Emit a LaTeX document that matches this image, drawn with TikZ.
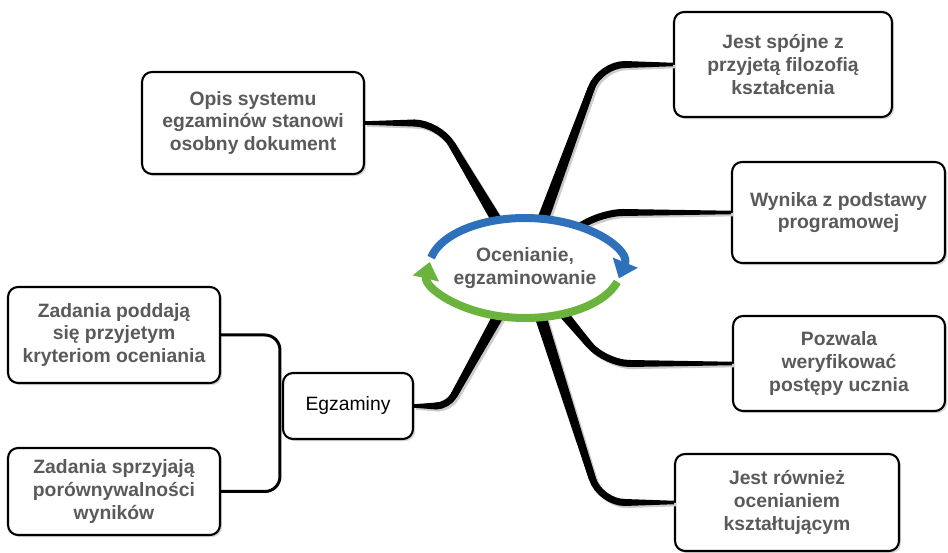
\documentclass[tikz,border=0pt]{standalone}
\usepackage{fontspec}
\setmainfont{Liberation Sans}
\usepackage{tikz}
\usetikzlibrary{arrows.meta}
\usetikzlibrary{positioning,shapes.geometric,shadows,calc}

\definecolor{txtgray}{RGB}{90,90,90}
\definecolor{arcblue}{RGB}{46,112,186}
\definecolor{arcgreen}{RGB}{106,180,62}

\begin{document}
\begin{tikzpicture}[
    x=0.02cm, y=-0.02cm,
    mybox/.style={
        rectangle,
        rounded corners=0.2cm,
        draw=black,
        fill=white,
        line width=1.2pt,
        drop shadow={shadow xshift=1.2pt, shadow yshift=-1.2pt, opacity=0.3},
        inner sep=2pt,
        align=center,
        text=txtgray,
        font=\fontsize{11}{13}\selectfont\bfseries},
    plainbox/.style={
        mybox,
        text=black,
        font=\fontsize{11}{13}\selectfont},
    hubnode/.style={
        ellipse,
        fill=white,
        inner sep=0pt,
        outer sep=0pt,
        minimum width=3.84cm,
        minimum height=2cm,
        align=center,
        text=txtgray,
        font=\fontsize{11}{13}\selectfont\bfseries},
    branch/.style={line width=0.14cm},
    bracket/.style={line width=0.06cm, rounded corners=0.3cm},
    cyclearrow/.style={line width=0.16cm, -{Triangle[width=0.52cm,length=0.34cm]}}
]
\useasboundingbox (0,0) rectangle (948,553);

% boxes round the hub
\node[mybox, minimum width=4.44cm, minimum height=2.04cm] (opis) at (253,123) {Opis systemu\\egzaminów stanowi\\osobny dokument};
\node[mybox, minimum width=4.36cm, minimum height=2.10cm] (spojne) at (783,64.5) {Jest spójne z\\przyjetą filozofią\\kształcenia};
\node[mybox, minimum width=4.26cm, minimum height=2.02cm] (wynika) at (838.5,212.5) {Wynika z podstawy\\programowej};
\node[mybox, minimum width=4.24cm, minimum height=1.90cm] (pozwala) at (839,363.5) {Pozwala\\weryfikować\\postępy ucznia};
\node[mybox, minimum width=4.48cm, minimum height=1.94cm] (rowniez) at (787,502.5) {Jest również\\ocenianiem\\kształtującym};
\node[mybox, minimum width=4.24cm, minimum height=1.92cm] (poddaja) at (114,335) {Zadania poddają\\się przyjetym\\kryteriom oceniania};
\node[mybox, minimum width=4.24cm, minimum height=1.74cm] (sprzyjaja) at (114,491.5) {Zadania sprzyjają\\porównywalności\\wyników};
\node[plainbox, minimum width=2.60cm, minimum height=1.32cm] (egz) at (348,406) {Egzaminy};

\coordinate (hc) at (525,268);

% thick branches, thinner towards the boxes
\foreach \col/\sh in {black!20/1.2pt, black/0pt}{
    \begin{scope}[transform canvas={xshift=\sh, yshift=-\sh}]
    \foreach \cx/\cy/\t/\s/\r in {439/123/opis.east/-1/25, 600/64.5/spojne.west/1/25,
        598/212.5/wynika.west/1/25, 605/363.5/pozwala.west/1/25,
        600/502.5/rowniez.west/1/25, 448/406/egz.east/-1/12}{
        \coordinate (bend) at (\cx,\cy);
        \coordinate (q) at ($(bend)!\r*0.02cm!(hc)$);
        \draw[branch, \col, rounded corners=\r*0.02cm]
            (hc) -- (bend) -- ({\cx+(\s)*(\r+0.5)},\cy);
        \fill[\col] ($(hc)!0.13cm!90:(bend)$) -- ($(q)!0.07cm!-90:(hc)$)
            -- ($(q)!0.07cm!90:(hc)$) -- ($(hc)!0.13cm!-90:(bend)$) -- cycle;
        \fill[\col] ({\cx+(\s)*(\r-0.5)},{\cy-3.5}) -- ([yshift=0.035cm]\t)
            -- ([yshift=-0.035cm]\t) -- ({\cx+(\s)*(\r-0.5)},{\cy+3.5}) -- cycle;
    }
    \end{scope}
}

\node[hubnode] (hub) at (hc) {Ocenianie,\\egzaminowanie};

% cycle round the hub
\draw[cyclearrow, arcblue] ([shift={(168:1.92cm and 1cm)}]hub.center)
    arc[start angle=168, end angle=-12, x radius=1.92cm, y radius=1cm];
\draw[cyclearrow, arcgreen] ([shift={(-16:1.92cm and 1cm)}]hub.center)
    arc[start angle=-16, end angle=-187, x radius=1.92cm, y radius=1cm];

\draw[bracket] (poddaja.east) -| ([xshift=-0.04cm]egz.west) |- (sprzyjaja.east);
\end{tikzpicture}
\end{document}
